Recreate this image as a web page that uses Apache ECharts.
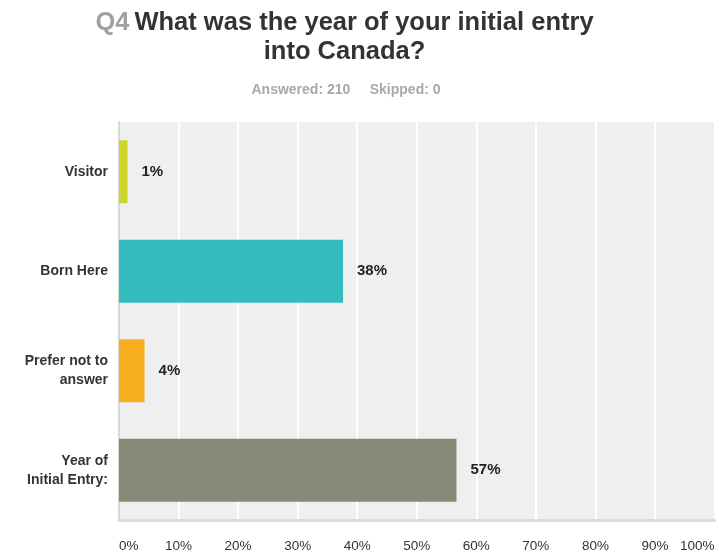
<!DOCTYPE html>
<html>
<head>
<meta charset="utf-8">
<script src="https://cdn.jsdelivr.net/npm/echarts@6/dist/echarts.min.js"></script>
<style>html,body{margin:0;padding:0;background:#fff;}#c{width:719px;height:555px;}</style>
</head>
<body>
<div id="c"></div>
<script>
var categories = ['Visitor', 'Born Here', 'Prefer not to\nanswer', 'Year of\nInitial Entry:'];
var values = [1.43, 37.62, 4.29, 56.67];
var colors = ['#cfd62a', '#33bdbf', '#f6ae20', '#888a78'];
var xTicks = [0, 10, 20, 30, 40, 50, 60, 70, 80, 90, 100];

var chart = echarts.init(document.getElementById('c'), null, {renderer: 'canvas'});
chart.setOption({
  animation: false,
  backgroundColor: '#fff',
  title: [{
    text: '{q|Q4} {t|What was the year of your initial entry}\n{t|into Canada?}',
    left: 339.5, top: 3, textAlign: 'center',
    textStyle: {
      fontFamily: 'Liberation Sans, Arial, sans-serif',
      lineHeight: 29,
      rich: {
        q: {fontSize: 25.5, fontWeight: 'bold', color: '#a0a0a0', fontFamily: 'Liberation Sans', lineHeight: 29},
        t: {fontSize: 25.5, fontWeight: 'bold', color: '#333333', fontFamily: 'Liberation Sans', lineHeight: 29}
      }
    }
  }, {
    text: 'Answered: 210     Skipped: 0',
    left: 341, top: 78, textAlign: 'center',
    textStyle: {fontSize: 14, fontWeight: 'bold', color: '#a8a8a8', fontFamily: 'Liberation Sans'}
  }],
  grid: {
    left: 119, top: 122, width: 595.5, height: 398,
    show: true, backgroundColor: '#efefef', borderWidth: 0
  },
  xAxis: {
    type: 'value', min: xTicks[0], max: xTicks[xTicks.length - 1], interval: 10,
    axisLine: {show: true, lineStyle: {color: '#dddddd', width: 3}},
    axisTick: {show: false},
    splitLine: {show: true, lineStyle: {color: '#ffffff', width: 2}},
    axisLabel: {
      formatter: '{value}%', margin: 19, fontSize: 13.5, color: '#333',
      fontFamily: 'Liberation Sans', alignMinLabel: 'left', alignMaxLabel: 'right'
    }
  },
  yAxis: {
    type: 'category', data: categories, inverse: true,
    axisLine: {show: true, lineStyle: {color: '#d8d8d8', width: 2}},
    axisTick: {show: false},
    axisLabel: {
      margin: 11, fontSize: 14, fontWeight: 'bold', color: '#333',
      fontFamily: 'Liberation Sans', lineHeight: 19, align: 'right'
    }
  },
  series: [{
    type: 'bar',
    barWidth: 63,
    data: values.map(function (v, i) { return {value: v, itemStyle: {color: colors[i]}}; }),
    label: {
      show: true, position: 'right', distance: 14,
      formatter: function (p) { return Math.round(p.value) + '%'; },
      fontSize: 15, fontWeight: 'bold', color: '#222', fontFamily: 'Liberation Sans'
    }
  }]
});
</script>
</body>
</html>
